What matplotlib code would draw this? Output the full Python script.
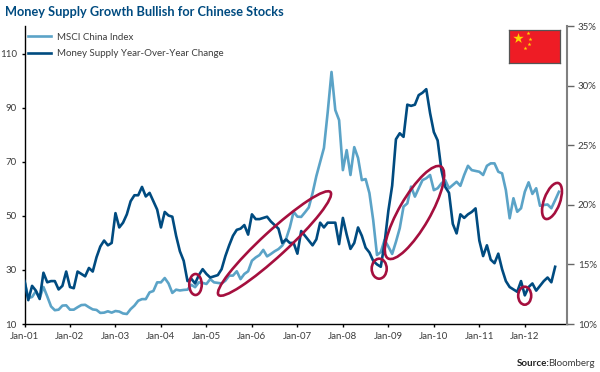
import numpy as np
import matplotlib
matplotlib.use("Agg")
import matplotlib.pyplot as plt
from matplotlib.patches import Ellipse
from matplotlib.transforms import IdentityTransform

# monthly values, Jan-01 onwards
msci = [26.0, 19.6, 20.0, 22.1, 19.6, 23.7, 20.2, 16.5, 15.1, 15.3, 16.8, 16.9,
        15.3, 15.3, 16.2, 17.0, 17.1, 16.2, 15.4, 15.2, 14.1, 14.2, 14.7, 14.2,
        14.8, 14.6, 13.9, 13.7, 15.5, 16.8, 18.6, 19.2, 19.2, 21.7, 22.2, 25.4,
        25.4, 27.0, 25.0, 21.5, 22.7, 22.4, 22.6, 22.7, 24.5, 23.6, 25.4, 25.2,
        24.8, 26.6, 25.4, 25.2, 25.0, 26.0, 27.9, 27.9, 29.5, 26.6, 28.5, 29.5,
        33.4, 34.6, 35.5, 37.4, 35.0, 35.9, 36.9, 37.7, 39.0, 41.4, 45.7, 51.5,
        49.7, 49.6, 51.3, 53.1, 58.4, 64.7, 69.9, 75.1, 88.4, 103.2, 89.1, 85.4,
        66.9, 74.3, 65.1, 75.4, 71.4, 63.2, 63.6, 58.4, 48.4, 35.5, 36.6, 41.1,
        38.6, 35.9, 40.4, 45.4, 53.4, 54.6, 60.8, 57.1, 60.2, 63.2, 63.9, 65.1,
        59.5, 60.2, 62.0, 63.2, 60.2, 61.4, 62.6, 61.1, 65.1, 68.5, 66.9, 66.6,
        66.3, 65.1, 68.5, 69.4, 69.4, 66.3, 65.7, 59.5, 49.1, 56.5, 51.5, 52.8,
        58.9, 62.4, 58.1, 60.2, 53.7, 54.0, 54.2, 52.8, 55.8, 58.9]

money = [13.6, 12.0, 13.2, 12.8, 12.1, 14.3, 13.5, 13.6, 13.6, 12.9, 13.2, 14.4,
         13.1, 13.0, 14.4, 14.2, 14.0, 14.7, 14.4, 15.6, 16.5, 17.0, 16.6, 16.8,
         19.3, 18.1, 18.5, 19.2, 20.3, 20.8, 20.8, 21.5, 20.7, 21.0, 20.3, 19.6,
         18.1, 19.4, 19.1, 19.0, 17.4, 16.1, 15.3, 13.6, 13.8, 13.4, 14.1, 14.6,
         14.2, 13.9, 14.0, 14.1, 14.6, 15.7, 16.6, 17.4, 17.9, 18.0, 18.3, 17.5,
         19.2, 18.8, 18.8, 18.9, 19.0, 18.6, 18.3, 18.0, 16.8, 17.1, 16.8, 16.8,
         15.9, 17.8, 17.4, 17.0, 16.6, 17.1, 18.5, 18.1, 18.5, 18.5, 18.5, 16.7,
         18.9, 17.5, 16.3, 16.8, 18.1, 17.4, 16.4, 16.0, 15.3, 15.0, 14.8, 16.8,
         19.5, 21.6, 25.5, 26.0, 25.7, 28.4, 28.3, 28.4, 29.2, 29.4, 29.7, 27.7,
         26.1, 25.4, 22.9, 21.5, 21.0, 18.4, 17.6, 19.2, 18.9, 19.2, 19.4, 19.7,
         17.0, 15.7, 16.6, 15.4, 15.1, 15.9, 14.6, 13.6, 13.1, 12.9, 12.7, 13.6,
         12.4, 13.1, 13.4, 12.8, 13.2, 13.6, 13.9, 13.5, 14.8]

year_labels = ["Jan-01", "Jan-02", "Jan-03", "Jan-04", "Jan-05", "Jan-06",
               "Jan-07", "Jan-08", "Jan-09", "Jan-10", "Jan-11", "Jan-12"]
left_ticks = [10, 30, 50, 70, 90, 110]
right_ticks = [10, 15, 20, 25, 30, 35]
right_labels = ["10%", "15%", "20%", "25%", "30%", "35%"]

LIGHT = "#5ba3c7"
DARK = "#004b80"
CRIMSON = "#a50f3e"
TEXT = "#3c3c3c"

plt.rcParams['font.family'] = ['Lato', 'Liberation Sans']

fig = plt.figure(figsize=(6.0, 3.72), dpi=100)
ax = fig.add_axes([24.5 / 600, 48 / 372, 542.2 / 600, 298 / 372])

ax.plot(np.arange(len(msci)), msci, color=LIGHT, lw=1.9, label="MSCI China Index", solid_joinstyle='round')
ax.plot([], [], color=DARK, lw=1.9, label="Money Supply Year-Over-Year Change")
ax.set_xlim(0, 143.05)
ax.set_ylim(10, 120.2)
ax.set_yticks(left_ticks)
ax.set_xticks(np.arange(len(year_labels)) * 12)
ax.set_xticklabels(year_labels)
ax.tick_params(axis='both', labelsize=7, labelcolor=TEXT, length=2.5, width=1, pad=3)
ax.spines['top'].set_visible(False)
ax.spines['right'].set_visible(False)
ax.spines['left'].set_linewidth(1)
ax.spines['bottom'].set_linewidth(1)

ax2 = ax.twinx()
ax2.plot(np.arange(len(money)), money, color=DARK, lw=1.9, solid_joinstyle='round')
ax2.set_ylim(10, 35)
ax2.set_yticks(right_ticks)
ax2.set_yticklabels(right_labels)
ax2.tick_params(axis='y', labelsize=7, labelcolor=TEXT, length=5, width=1, color="#666666", pad=3)
ax2.spines['top'].set_visible(False)
ax2.spines['left'].set_visible(False)
ax2.spines['bottom'].set_visible(False)
ax2.spines['right'].set_color("#808080")
ax2.spines['right'].set_linewidth(1.5)

ax.legend(loc='upper left', bbox_to_anchor=(0.0, 0.99), frameon=False, fontsize=7,
          labelcolor=TEXT, handlelength=2.3, handletextpad=0.6, labelspacing=0.75,
          borderaxespad=0.2, borderpad=0.2)

# hand drawn circles, in picture pixels (x, y from top, length, thickness, angle)
circles = [(195.5, 284.5, 12.5, 21, 0),
           (274.5, 243.5, 152, 25, 42.6),
           (379.2, 268.7, 15, 20, 0),
           (414.5, 212.5, 106, 31, 60),
           (524.7, 295.7, 13, 18, 0),
           (552, 201, 38, 16, 70)]
for cx, cy, w, h, ang in circles:
    fig.add_artist(Ellipse((cx, 372 - cy), w, h, angle=ang, fill=False, edgecolor=CRIMSON,
                           lw=1.9, transform=IdentityTransform()))

# flag
flag = fig.add_axes([509 / 600, (372 - 63.3) / 372, 51 / 600, 33.6 / 372])
flag.set_facecolor("#ee1c25")
flag.set_xlim(0, 51)
flag.set_ylim(33.6, 0)
flag.set_xticks([])
flag.set_yticks([])
for s in flag.spines.values():
    s.set_color("#555555")
    s.set_linewidth(0.9)
flag.scatter([8.7], [8.6], marker='*', s=62, color="#ffd400", linewidths=0)
flag.scatter([19, 21.3, 20.3, 16.3], [3.3, 8.9, 13.9, 18.6], marker='*', s=9, color="#ffd400", linewidths=0)

fig.text(5 / 600, (372 - 16) / 372, "Money Supply Growth Bullish for Chinese Stocks",
         fontsize=9.2, fontweight='bold', color=DARK, va='baseline')
fig.text(595 / 600, 8 / 372, "Bloomberg", ha='right', va='center', fontsize=7, color=TEXT)
fig.text(550 / 600, 8 / 372, "Source:", ha='right', va='center', fontsize=7, fontweight='bold', color="#222222")

fig.savefig("out.png", dpi=100)
